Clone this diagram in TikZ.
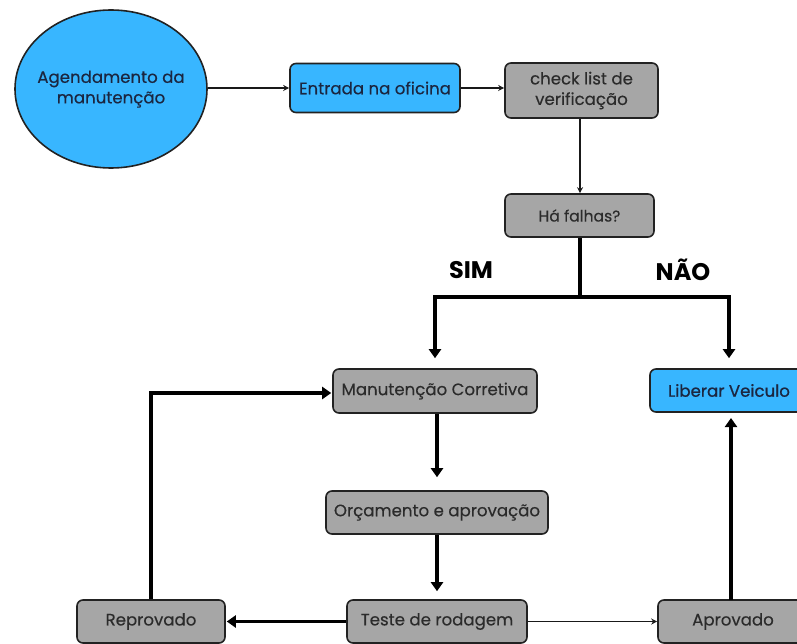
\documentclass[tikz,border=0pt]{standalone}
\usepackage{fontspec}
\setmainfont{Poppins}
\newfontfamily\medfont{Poppins}[FakeBold=0.35]
\newfontfamily\semifont{Poppins}[FakeBold=0.9]
\usetikzlibrary{shapes.geometric,arrows.meta}
\definecolor{sky}{HTML}{38B6FF}
\definecolor{boxgray}{HTML}{A6A6A6}
\definecolor{edgec}{HTML}{222222}
\definecolor{navytxt}{HTML}{1B2640}
\definecolor{graytxt}{HTML}{2B2B2B}
\begin{document}
\begin{tikzpicture}[x=1pt,y=-1pt,
  boxbase/.style={draw=edgec, line width=1.6pt, rounded corners=6pt, inner sep=0pt, align=center, font=\medfont\fontsize{16.6}{20.5}\selectfont},
  bluebox/.style={boxbase, fill=sky, text=navytxt},
  graybox/.style={boxbase, fill=boxgray, text=graytxt},
  lightconn/.style={draw=black!90, line width=1.4pt, -{Stealth[length=6pt,width=6pt]}},
  heavyconn/.style={draw=black, line width=3.4pt, -{Triangle[length=9pt,width=12pt]}},
  heavyline/.style={draw=black, line width=3.4pt},
  lbl/.style={font=\fontsize{24}{28}\selectfont\bfseries, text=black}
]
\useasboundingbox (0,0) rectangle (797,644);
\clip (0,0) rectangle (797,644);

\node[ellipse, draw=edgec, line width=1.6pt, fill=sky, text=navytxt,
      minimum width=192pt, minimum height=158pt, inner sep=0pt,
      font=\medfont\fontsize{16.6}{20.5}\selectfont] (ag) at (111,89)
      {\makebox[110pt]{\begin{tabular}{@{}c@{}}Agendamento da\\manutenção\end{tabular}}};
\node[bluebox, minimum width=170pt, minimum height=49pt] (ent) at (375,88) {Entrada na oficina};
\node[graybox, minimum width=153pt, minimum height=55pt] (chk) at (581.5,90.5) {check list de\\verificação};
\node[graybox, minimum width=149pt, minimum height=43pt, font=\medfont\fontsize{15.6}{19}\selectfont] (fal) at (579.5,215.5) {Há falhas?};
\node[graybox, minimum width=204pt, minimum height=44pt] (man) at (435,391) {Manutenção Corretiva};
\node[bluebox, minimum width=158pt, minimum height=43pt, font=\semifont\fontsize{16.6}{20.5}\selectfont] (lib) at (729,390.5) {Liberar Veiculo};
\node[graybox, minimum width=222pt, minimum height=43pt] (orc) at (437,512.5) {Orçamento e aprovação};
\node[graybox, minimum width=180pt, minimum height=43pt] (tes) at (437,621.5) {Teste de rodagem};
\node[graybox, minimum width=148pt, minimum height=43pt] (rep) at (151,621.5) {Reprovado};
\node[graybox, minimum width=150pt, minimum height=43pt] (apr) at (733,621.5) {Aprovado};

\node[lbl] (sim) at (471,270) {SIM};
\node[lbl] (nao) at (683,270) {NÃO};

\coordinate (j) at (580,297);
\coordinate (sl) at (435,297);
\coordinate (nr) at (729,297);
\coordinate (rc) at (151,393);

\draw[lightconn] (ag.east |- ent.west) -- (ent.west);
\draw[lightconn] (ent.east) -- (ent.east -| chk.west);
\draw[lightconn] (j |- chk.south) -- (j |- fal.north);

\draw[heavyline] (j |- fal.south) -- (j);
\draw[heavyline, line cap=rect] (sl) -- (nr);
\draw[heavyconn, shorten >=10pt] (sl) -- (sl |- man.north);
\draw[heavyconn, shorten >=10pt] (nr) -- (nr |- lib.north);
\draw[heavyconn, shorten >=13pt] (man.south -| orc.north) -- (orc.north);
\draw[heavyconn, shorten >=8pt] (orc.south) -- (tes.north);
\draw[heavyconn, shorten >=1pt] (tes.west) -- (rep.east);
\draw[lightconn] (tes.east) -- (apr.west);
\draw[heavyconn, shorten >=6pt] (731,600) -- (731,412);
\draw[heavyconn, shorten >=1pt] (rep.north) -- (rc) -- (rc -| man.west);
\end{tikzpicture}
\end{document}
